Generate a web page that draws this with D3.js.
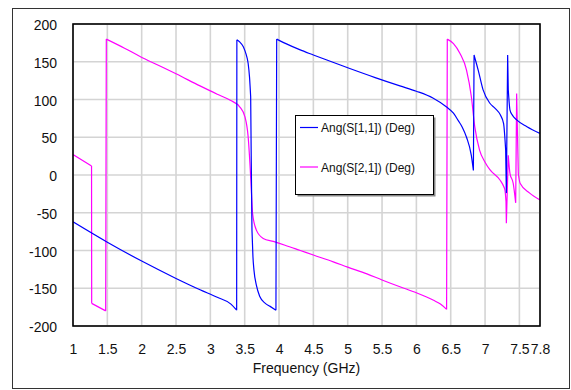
<!DOCTYPE html>
<html><head><meta charset="utf-8">
<script src="https://cdn.jsdelivr.net/npm/d3@7"></script>
<style>body{margin:0;background:#fff}svg{display:block}text{font-family:Arial,"Liberation Sans",sans-serif}</style>
</head><body><svg id="c" width="571" height="390"></svg>
<script>
const xTicks = [1,1.5,2,2.5,3,3.5,4,4.5,5,5.5,6,6.5,7,7.5,7.8];
const yTicks = [-200,-150,-100,-50,0,50,100,150,200];
const seriesNames = ["Ang(S[1,1]) (Deg)", "Ang(S[2,1]) (Deg)"];
const s11Freq = [1.0,1.5,2.0,2.5,2.85,3.1,3.3,3.383,3.386,3.43,3.48,3.52,3.55,3.57,3.587,3.596,3.606,3.62,3.635,3.67,3.72,3.8,3.87,3.955,3.966,4.1,4.3,4.5,5.03,5.4,5.76,6.0,6.24,6.44,6.54,6.61,6.67,6.73,6.8,6.83,6.84,6.87,6.9,6.97,7.07,7.15,7.22,7.27,7.3,7.31,7.329,7.338,7.363,7.4,7.46,7.61,7.8];
const s11Val  = [-62,-89,-114,-137,-152,-162,-171,-179,179,176,170,160,148,130,104,16,-73,-108,-126,-146,-161,-170,-174,-179,180,174,166,159,141,129,118,111,102,90,82,72,63,50,26,6,159,149,139,113,95,88,80,68,33,-24,159,113,86,79,73,64,55];
const s21Freq = [1.0,1.27,1.272,1.476,1.485,1.75,1.976,2.25,2.5,2.85,3.1,3.29,3.43,3.504,3.55,3.59,3.615,3.67,3.77,3.917,4.087,4.31,4.5,4.79,5.0,5.28,5.5,5.76,6.0,6.25,6.35,6.44,6.45,6.54,6.635,6.73,6.8,6.85,6.92,7.0,7.07,7.22,7.27,7.29,7.305,7.31,7.338,7.363,7.41,7.446,7.46,7.484,7.51,7.65,7.8];
const s21Val  = [27,12,-170,-180,180,168,157,145,134,118,107,99,90,77,51,-7,-51,-73,-84,-88,-93,-100,-106,-115,-122,-131,-139,-148,-156,-166,-171,-178,180,174,161,139,104,64,33,17,7,-7,-15,-20,-35,-64,26,2,-11,-37,108,2,-11,-24,-33];
const colors = ["#0000ff","#ff00ff"];

const svg = d3.select("#c");
const L=73, R=540, T=24, B=326;
const x = d3.scaleLinear().domain([1,7.8]).range([L,R]);
const y = d3.scaleLinear().domain([-200,200]).range([B,T]);

svg.append("rect").attr("x",12.5).attr("y",8.5).attr("width",557).attr("height",380)
  .attr("fill","#fff").attr("stroke","#333").attr("stroke-width",1);

const g = svg.append("g");
g.selectAll(".gx").data(xTicks).join("line").attr("x1",d=>x(d)).attr("x2",d=>x(d)).attr("y1",T).attr("y2",B)
  .attr("stroke","#d4d4d4").attr("stroke-width",1.6);
g.selectAll(".gy").data(yTicks).join("line").attr("y1",d=>y(d)).attr("y2",d=>y(d)).attr("x1",L).attr("x2",R)
  .attr("stroke","#d4d4d4").attr("stroke-width",1.6);

const xAxis = d3.axisBottom(x).tickValues(xTicks).tickSize(0).tickPadding(0).tickFormat(d=>String(d));
const gx = svg.append("g").attr("transform",`translate(0,${B})`).call(xAxis);
gx.select(".domain").remove();
gx.selectAll("text").attr("font-size",14).attr("fill","#111").attr("dy",0).attr("y",27.5).attr("font-family","Arial, 'Liberation Sans', sans-serif");

const yAxis = d3.axisLeft(y).tickValues(yTicks).tickSize(0).tickPadding(0).tickFormat(d=>String(d));
const gy = svg.append("g").attr("transform",`translate(${L},0)`).call(yAxis);
gy.select(".domain").remove();
gy.selectAll("text").attr("font-size",14).attr("fill","#111").attr("x",-16).attr("dy",0).attr("y",5.5).attr("font-family","Arial, 'Liberation Sans', sans-serif");

svg.append("clipPath").attr("id","pc").append("rect").attr("x",L).attr("y",T-2).attr("width",R-L).attr("height",B-T+4);
const smooth = d3.line().x(d=>x(d[0])).y(d=>y(d[1])).curve(d3.curveMonotoneX);
const straight = d3.line().x(d=>x(d[0])).y(d=>y(d[1]));

function drawSeries(pts, color){
  let run = [pts[0]];
  const paths = [];
  for(let i=1;i<pts.length;i++){
    const a=pts[i-1], b=pts[i];
    const steep = Math.abs(b[1]-a[1])/(b[0]-a[0]) > 2500;
    if(steep){
      if(run.length>1) paths.push(smooth(run));
      paths.push(straight([a,b]));
      run=[b];
    } else run.push(b);
  }
  if(run.length>1) paths.push(smooth(run));
  svg.append("path").attr("d",paths.join("")).attr("fill","none").attr("stroke",color)
    .attr("stroke-width",1.2).attr("stroke-linejoin","round").attr("clip-path","url(#pc)");
}
const data = [d3.zip(s11Freq,s11Val), d3.zip(s21Freq,s21Val)];
drawSeries(data[1], colors[1]);
drawSeries(data[0], colors[0]);

svg.append("rect").attr("x",L).attr("y",T).attr("width",R-L).attr("height",B-T)
  .attr("fill","none").attr("stroke","#000").attr("stroke-width",1.6);

svg.append("text").attr("x",(L+R)/2).attr("y",373).attr("text-anchor","middle").attr("font-size",14).attr("fill","#111").text("Frequency (GHz)");

const lg = svg.append("g");
lg.append("rect").attr("x",297.5).attr("y",117.5).attr("width",138).attr("height",79).attr("fill","#888");
lg.append("rect").attr("x",295.5).attr("y",115.5).attr("width",138).attr("height",79).attr("fill","#fff").attr("stroke","#000").attr("stroke-width",1);
const ly = [127.5,167];
seriesNames.forEach((n,i)=>{
  lg.append("line").attr("x1",300).attr("x2",318).attr("y1",ly[i]).attr("y2",ly[i]).attr("stroke",colors[i]).attr("stroke-width",1.2);
  lg.append("text").attr("x",321).attr("y",ly[i]+4.5).attr("font-size",12).attr("fill","#111").text(n);
});
</script></body></html>
